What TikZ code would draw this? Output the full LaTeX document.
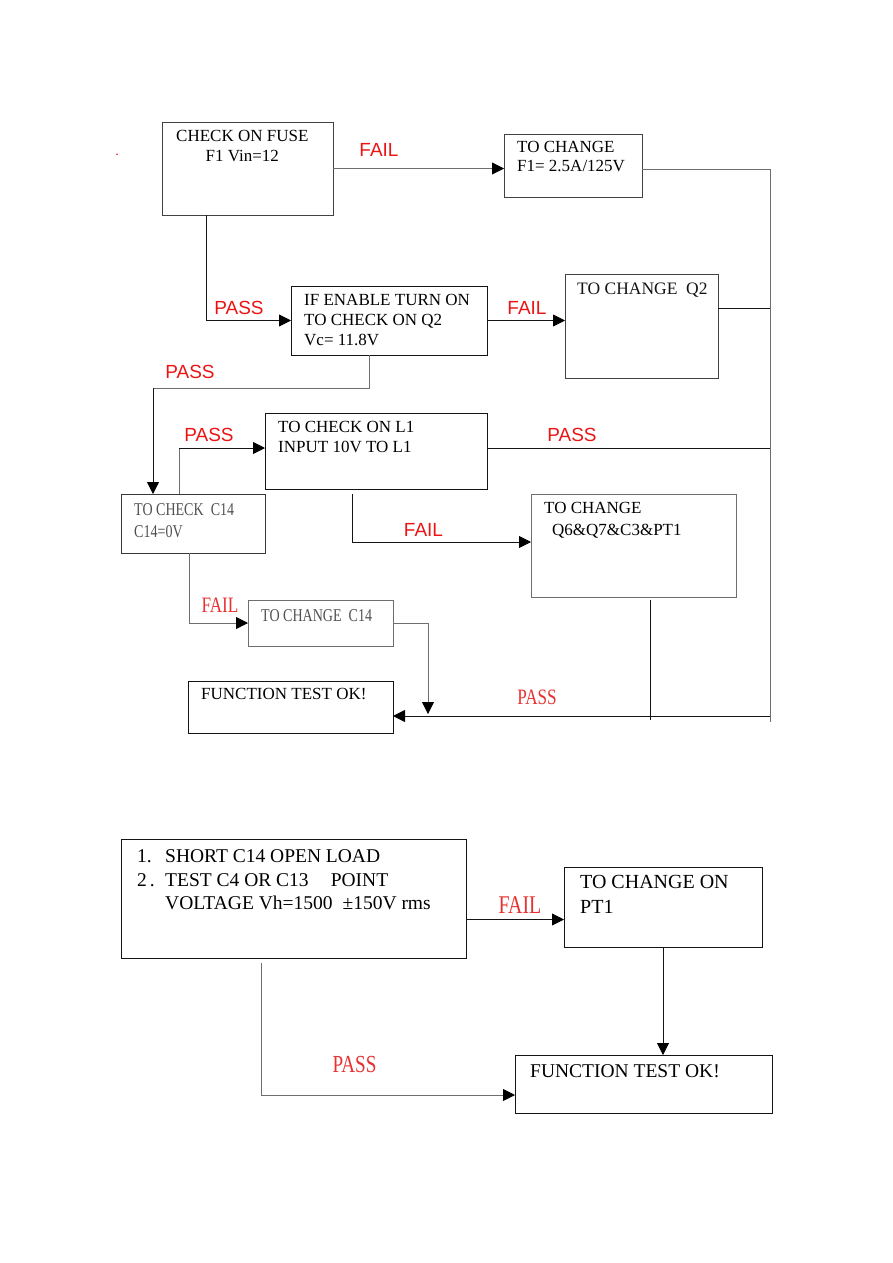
\documentclass[tikz,border=0pt]{standalone}
\usepackage{fontspec}
\setmainfont{Liberation Serif}
\newfontfamily\labelsans{Liberation Sans}
\newfontfamily\narrowserif[FakeStretch=0.78]{Liberation Serif}
\usepackage{xcolor}
\usepackage{tikz}
\usetikzlibrary{arrows.meta, calc}
\definecolor{myred}{RGB}{235,20,20}
\definecolor{mylightred}{RGB}{232,50,50}
\definecolor{mygray}{RGB}{110,110,110}
\definecolor{mydark}{RGB}{20,20,20}
\definecolor{mytextgray}{RGB}{80,80,80}
\tikzset{
  box/.style={rectangle, draw=mydark, line width=1pt, anchor=north west,
    inner sep=0pt, outer sep=0pt},
  graybox/.style={box, draw=mygray},
  boxtext/.style={anchor=north west, align=left, inner xsep=13pt,
    inner ysep=8pt, text=black},
  arrow/.style={-{Triangle[length=12pt, width=12pt, color=black]},
    line width=0.8pt, color=mydark},
  grayarrow/.style={arrow, color=mygray},
  line/.style={line width=0.8pt, color=mydark},
  grayline/.style={line width=0.8pt, color=mygray},
  sanslabel/.style={font=\labelsans\fontsize{19}{22}\selectfont,
    text=myred, inner sep=0pt},
  seriflabel/.style={text=mylightred, inner sep=0pt}
}

\begin{document}
\begin{tikzpicture}[x=1pt, y=-1pt]
  \useasboundingbox (0,0) rectangle (893,1263);

  % upper chart
  \node[text=myred, font=\fontsize{14}{16}\selectfont, inner sep=0pt] (dot) at (117,155) {.};
  \node[box, draw=mygray!60!black, minimum width=171pt, minimum height=93pt,
    label={[boxtext, align=center, inner xsep=14pt, font=\fontsize{17}{20}\selectfont]north west:{CHECK ON FUSE\\F1 Vin=12}}]
    (fuse) at (162,122) {};
  \node[box, draw=mygray!60!black, minimum width=138pt, minimum height=63pt,
    label={[boxtext, inner ysep=7pt, font=\fontsize{17}{19}\selectfont]north west:{TO CHANGE\\F1= 2.5A/125V}}]
    (chgfuse) at (504,134) {};
  \node[box, minimum width=196pt, minimum height=69pt,
    label={[boxtext, font=\fontsize{17}{20}\selectfont]north west:{IF ENABLE TURN ON\\TO CHECK ON Q2\\Vc= 11.8V}}]
    (q2chk) at (291,286) {};
  \node[box, draw=mygray!60!black, minimum width=153pt, minimum height=104pt,
    label={[boxtext, inner xsep=12pt, inner ysep=9pt, text=mydark, font=\fontsize{17.5}{20}\selectfont]north west:{TO CHANGE\ \ Q2}}]
    (chgq2) at (565,274) {};
  \node[graybox, draw=mygray!50!black, minimum width=144pt, minimum height=59pt,
    label={[boxtext, inner ysep=9pt, text=mytextgray, font=\narrowserif\fontsize{18}{22}\selectfont]north west:{TO CHECK\ \ C14\\C14=0V}}]
    (c14chk) at (121,494) {};
  \node[box, minimum width=222pt, minimum height=76pt,
    label={[boxtext, font=\fontsize{17}{20}\selectfont]north west:{TO CHECK ON L1\\INPUT 10V TO L1}}]
    (l1chk) at (265,413) {};
  \node[graybox, minimum width=205pt, minimum height=103pt,
    label={[boxtext, font=\fontsize{17}{22}\selectfont]north west:{TO CHANGE\\\hspace{8pt}Q6\&Q7\&C3\&PT1}}]
    (chgq6) at (531,494) {};
  \node[graybox, minimum width=145pt, minimum height=46pt,
    label={[boxtext, inner ysep=9pt, text=mytextgray, font=\narrowserif\fontsize{18}{22}\selectfont]north west:{TO CHANGE\ \ C14}}]
    (chgc14) at (248,600) {};
  \node[box, minimum width=205pt, minimum height=52pt,
    label={[boxtext, inner ysep=7pt, font=\fontsize{17}{20}\selectfont]north west:{FUNCTION TEST OK!}}]
    (okay1) at (188,681) {};

  \coordinate (rtop) at (770,169);
  \coordinate (rbot) at (770,722);
  \coordinate (rpass) at (770,716);
  \coordinate (cbend) at (153,388);
  \coordinate (ebend) at (179,448);
  \coordinate (gend) at (650,720);
  \coordinate (hend) at (428,714);

  % Paths
  \draw[grayarrow] (fuse.east) -- (fuse.east -| chgfuse.west);
  \draw[grayline] (chgfuse.east |- rtop) -- (rtop) -- (rbot);
  \draw[arrow] ([xshift=-41.5pt]fuse.south) |- (q2chk.west);
  \draw[arrow] (q2chk.east) -- (q2chk.east -| chgq2.west);
  \draw[line] ([yshift=18pt]chgq2.east) -- ([yshift=18pt]chgq2.east -| rtop);
  \draw[grayline] ([xshift=-20pt]q2chk.south) |- (cbend);
  \draw[arrow] (cbend) -- (cbend |- c14chk.north);
  \draw[grayline] ([xshift=-14pt]c14chk.north) -- (ebend);
  \draw[arrow] (ebend) -- (ebend -| l1chk.west);
  \draw[line] ([yshift=3pt]l1chk.east) -- ([yshift=3pt]l1chk.east -| rtop);
  \draw[arrow] ([xshift=-24pt, yshift=-5pt]l1chk.south) |- ([yshift=3.5pt]chgq6.west);
  \draw[line] ([yshift=-3pt]chgq6.south -| gend) -- (gend);
  \draw[grayarrow] ([xshift=-4pt]c14chk.south) |- (chgc14.west);
  \draw[grayarrow] (chgc14.east) -| (hend);
  \draw[arrow] (rpass) -- (rpass -| okay1.east);

  \node[sanslabel] (failfuse) at (379,150) {FAIL};
  \node[sanslabel] (passfuse) at (239,307.5) {PASS};
  \node[sanslabel] (failq2) at (527,308) {FAIL};
  \node[sanslabel] (passq2) at (190,371.5) {PASS};
  \node[sanslabel] (passc14) at (209,435) {PASS};
  \node[sanslabel] (passl1) at (572,435) {PASS};
  \node[sanslabel] (faill1) at (423.5,529.5) {FAIL};
  \node[seriflabel, font=\narrowserif\fontsize{22}{26}\selectfont] (failc14) at (220,605) {FAIL};
  \node[seriflabel, font=\narrowserif\fontsize{22}{26}\selectfont] (passok) at (537,697.5) {PASS};

  % lower chart
  \node[box, minimum width=345pt, minimum height=119pt,
    label={[boxtext, inner xsep=16pt, inner ysep=10.5pt, font=\fontsize{19.5}{23.5}\selectfont]north west:{%
      \makebox[28pt][l]{1.}SHORT C14 OPEN LOAD\\
      \makebox[28pt][l]{2\hspace{3pt}.}TEST C4 OR C13\hspace{22pt}POINT\\
      \hspace{28pt}VOLTAGE Vh=1500\hspace{10pt}±150V rms}}]
    (steps) at (121,839) {};
  \node[box, minimum width=198pt, minimum height=80pt,
    label={[boxtext, inner xsep=16pt, font=\fontsize{20}{25}\selectfont]north west:{TO CHANGE ON\\PT1}}]
    (chgpt1) at (564,867) {};
  \node[box, minimum width=257pt, minimum height=58pt,
    label={[boxtext, inner xsep=15pt, inner ysep=9pt, font=\fontsize{19.5}{24}\selectfont]north west:{FUNCTION TEST OK!}}]
    (okay2) at (515,1055) {};

  \draw[arrow] ([yshift=-21pt]steps.east) -- ([yshift=-21pt]steps.east -| chgpt1.west);
  \draw[arrow] (chgpt1.south) -- (chgpt1.south |- okay2.north);
  \draw[grayarrow] ([xshift=-32.5pt, yshift=-5pt]steps.south) |- ([yshift=-11pt]okay2.west);

  \node[seriflabel, font=\narrowserif\fontsize{25.5}{30}\selectfont] (failpt1) at (520,905.5) {FAIL};
  \node[seriflabel, font=\narrowserif\fontsize{24.5}{29}\selectfont] (passpt1) at (354.5,1064.5) {PASS};
\end{tikzpicture}
\end{document}
